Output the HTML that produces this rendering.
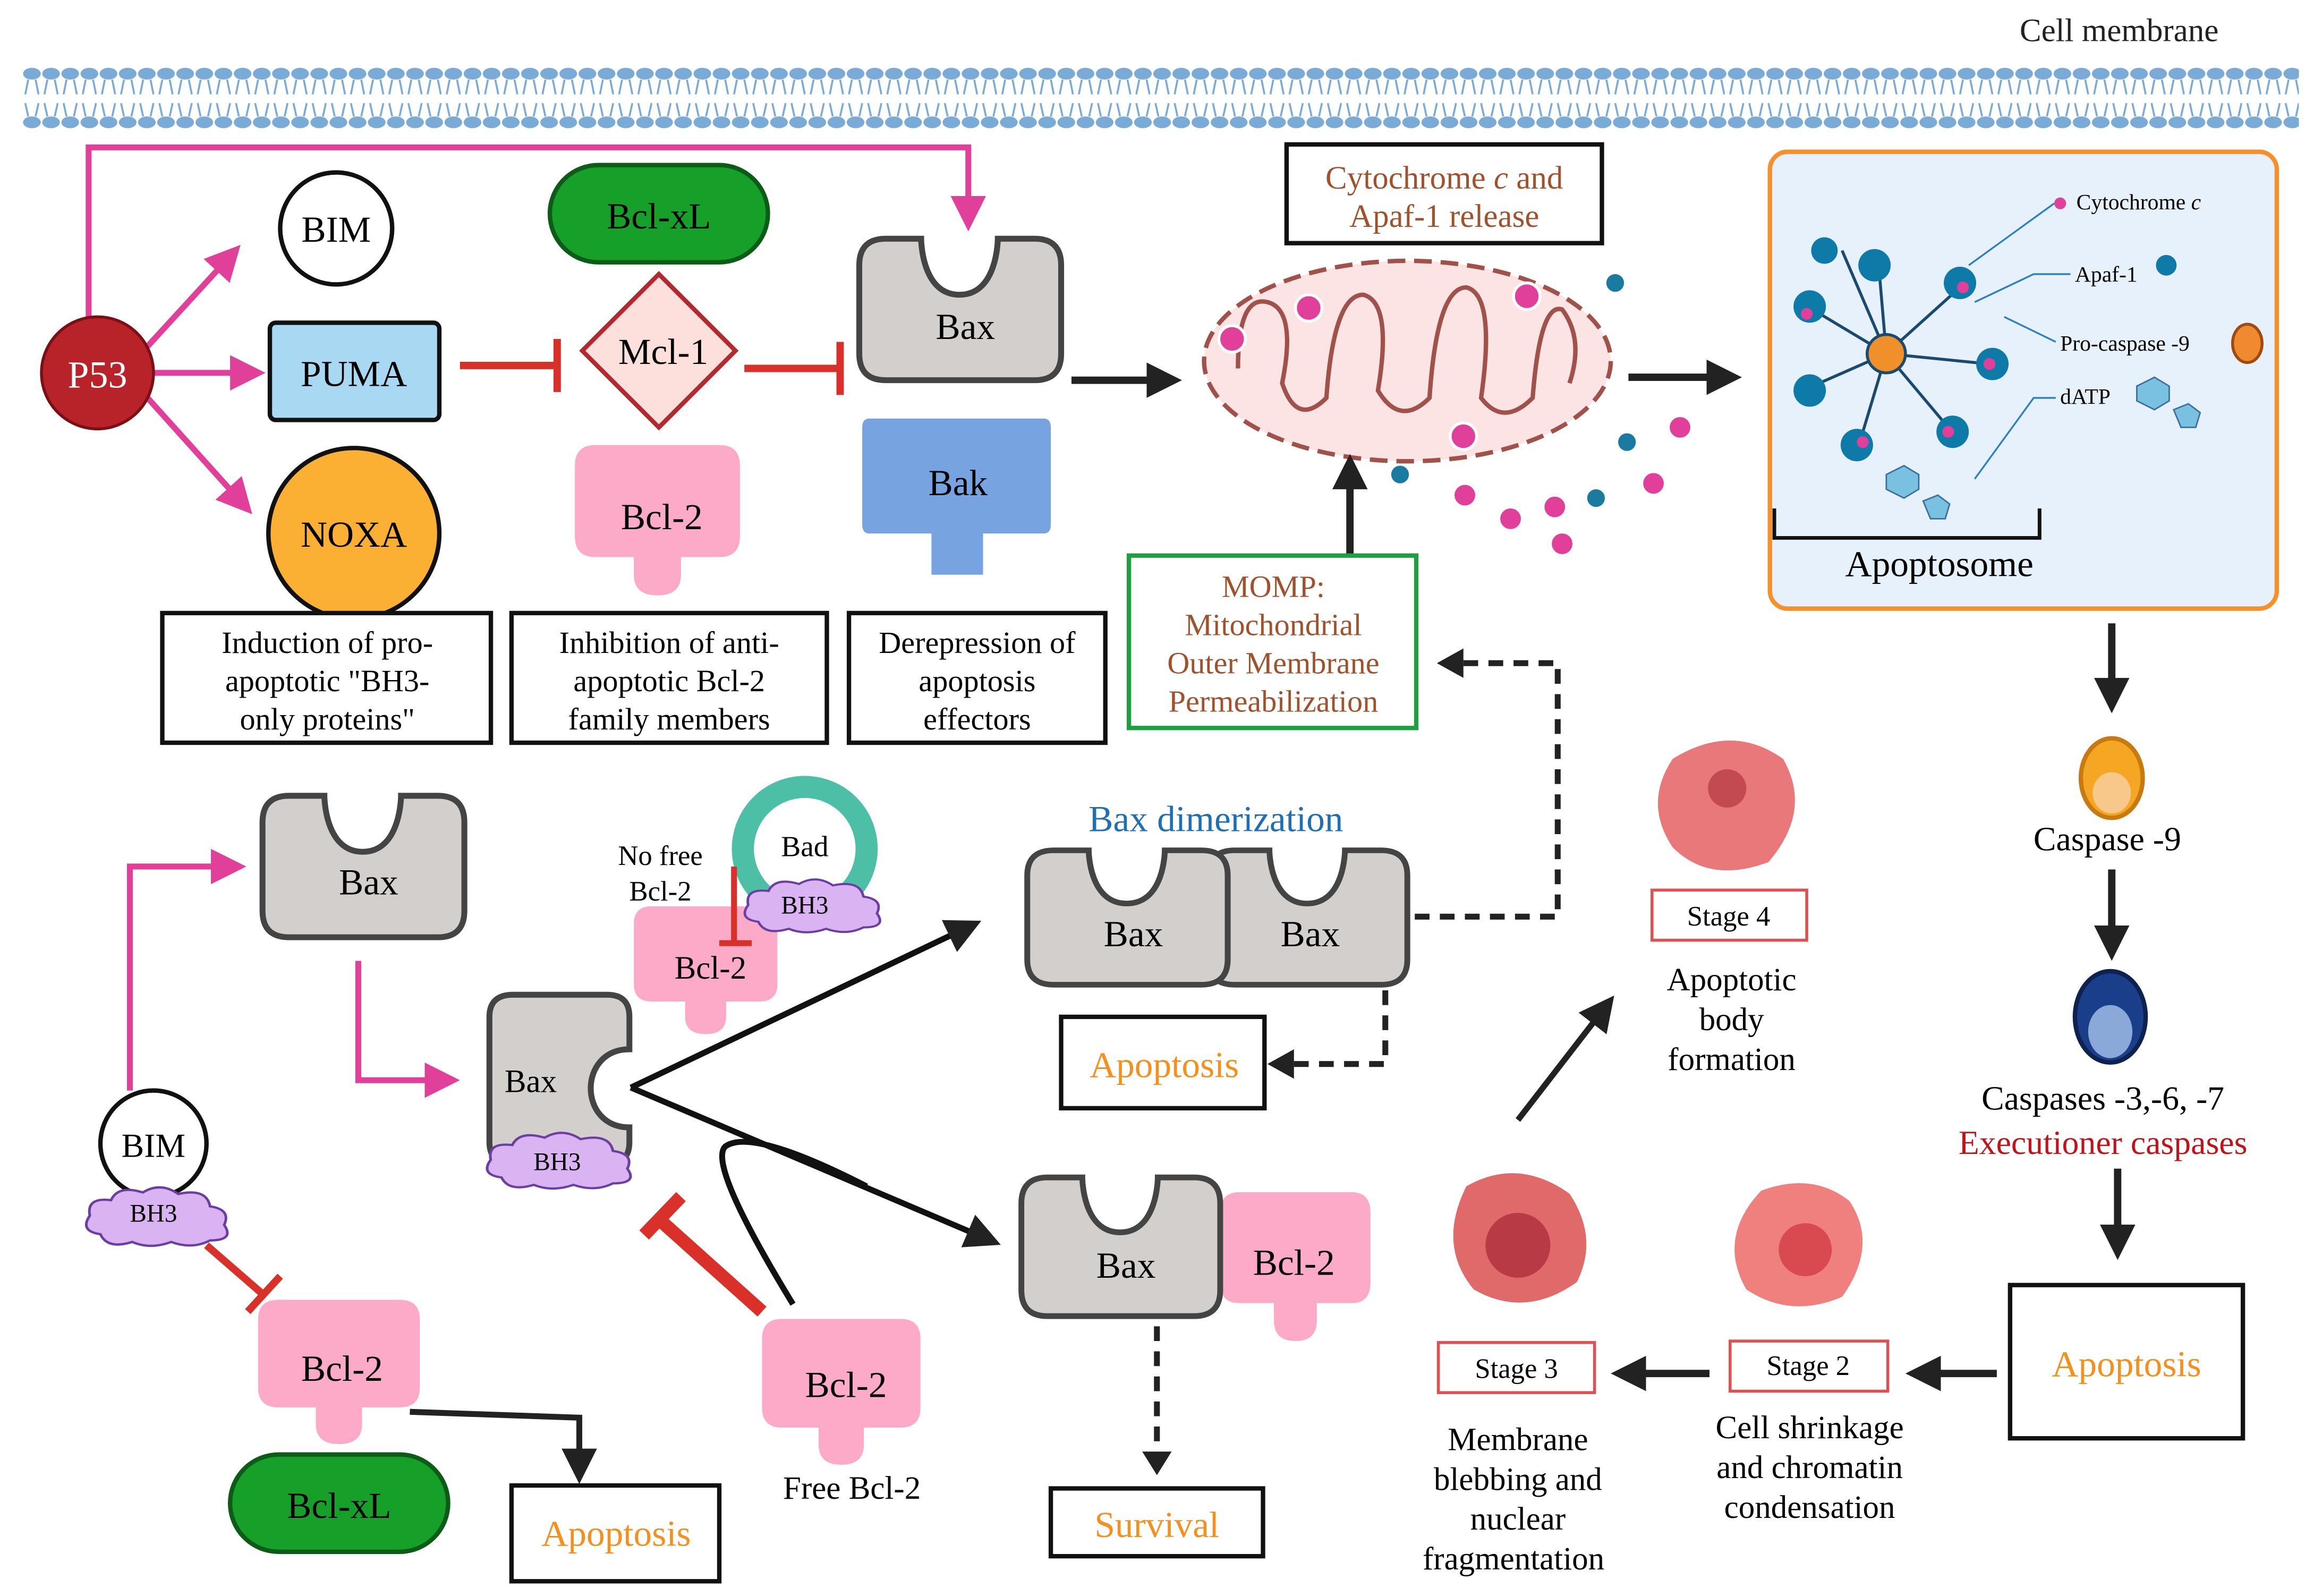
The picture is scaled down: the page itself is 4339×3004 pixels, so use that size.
<!DOCTYPE html>
<html><head><meta charset="utf-8">
<style>html,body{margin:0;padding:0;background:#fff}svg{display:block}
text{font-family:"Liberation Serif",serif}</style></head>
<body>
<svg width="4339" height="3004" viewBox="0 0 1564 1083" xmlns="http://www.w3.org/2000/svg">
<defs>
<pattern id="mem" x="15" y="0" width="13" height="100" patternUnits="userSpaceOnUse">
<ellipse cx="6.5" cy="50" rx="6" ry="4" fill="#7aaad6"/>
<ellipse cx="6.5" cy="83" rx="6" ry="4" fill="#7aaad6"/>
<path d="M4,54 L2,64 M9,54 L11,64 M4,79 L2,70 M9,79 L11,70" stroke="#7aaad6" stroke-width="1.3" fill="none"/>
</pattern>
<path id="bax" d="M18,0 H42 C42,0 42,38 68,38 C94,38 94,0 94,0 H119 Q137,0 137,18 V78 Q137,96 119,96 H18 Q0,96 0,78 V18 Q0,0 18,0 Z" fill="#d3cfcc" stroke="#444" stroke-width="4"/>
<g id="bcl2"><path d="M14,0 H98 Q112,0 112,14 V62 Q112,76 98,76 H72 V88 Q72,102 56,102 Q40,102 40,88 V76 H14 Q0,76 0,62 V14 Q0,0 14,0 Z" fill="#fcaac8"/></g>
<g id="cloud"><path d="M10,30 Q-2,28 4,18 Q2,6 16,8 Q20,-2 34,3 Q44,-4 54,4 Q70,0 72,12 Q84,14 80,24 Q86,34 72,34 Q62,40 50,35 Q38,40 28,35 Q14,40 10,30 Z" fill="#d9b3f2" stroke="#6a3fa0" stroke-width="1.5"/></g>
<marker id="ab" markerWidth="10" markerHeight="10" refX="6" refY="5" orient="auto" markerUnits="userSpaceOnUse"><path d="M0,0 L10,5 L0,10 Z" fill="#222"/></marker>
<marker id="abig" markerWidth="24" markerHeight="24" refX="12" refY="12" orient="auto" markerUnits="userSpaceOnUse"><path d="M0,0 L24,12 L0,24 Z" fill="#222"/></marker>
<marker id="ap" markerWidth="24" markerHeight="24" refX="12" refY="12" orient="auto" markerUnits="userSpaceOnUse"><path d="M0,0 L24,12 L0,24 Z" fill="#e0409a"/></marker>
</defs>

<!-- membrane -->
<text x="1438" y="28" font-size="22" text-anchor="middle" fill="#222">Cell membrane</text>
<rect x="15" y="40" width="1545" height="50" fill="url(#mem)"/>

<!-- P53 pink lines -->
<g stroke="#e0409a" stroke-width="4" fill="none">
<path d="M60,220 V100 H657 V145" marker-end="url(#ap)"/>
<path d="M100,235 L155,175" marker-end="url(#ap)"/>
<path d="M104,253 L168,253" marker-end="url(#ap)"/>
<path d="M100,270 L163,340" marker-end="url(#ap)"/>
<path d="M88,740 V588 H155" marker-end="url(#ap)"/>
<path d="M243,652 V733 H300" marker-end="url(#ap)"/>
</g>
<circle cx="66" cy="253" r="38" fill="#b8232a" stroke="#7a1015" stroke-width="2"/>
<text x="66" y="263" font-size="26" fill="#fff" text-anchor="middle">P53</text>

<circle cx="228" cy="155" r="38" fill="#fff" stroke="#111" stroke-width="3"/>
<text x="228" y="164" font-size="25" text-anchor="middle">BIM</text>
<rect x="183" y="219" width="115" height="66" rx="4" fill="#a8d8f2" stroke="#111" stroke-width="3"/>
<text x="240" y="262" font-size="25" text-anchor="middle">PUMA</text>
<circle cx="240" cy="362" r="58" fill="#fbb034" stroke="#111" stroke-width="3"/>
<text x="240" y="371" font-size="25" text-anchor="middle">NOXA</text>

<g stroke="#d9302a" stroke-width="5"><path d="M312,248 H376 M378,230 V266"/><path d="M505,250 H568 M570,232 V268"/></g>
<rect x="373" y="112" width="148" height="66" rx="33" fill="#16a02a" stroke="#0c5c18" stroke-width="3"/>
<text x="447" y="155" font-size="25" text-anchor="middle">Bcl-xL</text>
<path d="M447,186 L499,238 L447,290 L395,238 Z" fill="#fde0dc" stroke="#b02a30" stroke-width="3"/>
<text x="450" y="247" font-size="25" text-anchor="middle">Mcl-1</text>
<use href="#bcl2" transform="translate(390,302)"/>
<text x="449" y="359" font-size="25" text-anchor="middle">Bcl-2</text>
<use href="#bax" transform="translate(583,162)"/>
<text x="655" y="230" font-size="25" text-anchor="middle">Bax</text>
<path d="M590,284 H708 Q713,284 713,290 V356 Q713,362 708,362 H667 V390 H632 V362 H590 Q585,362 585,356 V290 Q585,284 590,284 Z" fill="#77a3e0"/>
<text x="650" y="336" font-size="25" text-anchor="middle">Bak</text>

<g fill="#fff" stroke="#111" stroke-width="3">
<rect x="110" y="416" width="223" height="88"/><rect x="347" y="416" width="214" height="88"/><rect x="576" y="416" width="174" height="88"/>
</g>
<g font-size="21" text-anchor="middle">
<text x="222" y="443">Induction of pro-</text><text x="222" y="469">apoptotic "BH3-</text><text x="222" y="495">only proteins"</text>
<text x="454" y="443">Inhibition of anti-</text><text x="454" y="469">apoptotic Bcl-2</text><text x="454" y="495">family members</text>
<text x="663" y="443">Derepression of</text><text x="663" y="469">apoptosis</text><text x="663" y="495">effectors</text>
</g>

<!-- mito -->
<path d="M727,258 H790" stroke="#222" stroke-width="5" marker-end="url(#abig)"/>
<ellipse cx="955" cy="245" rx="138" ry="68" fill="#fde4e4" stroke="#a0524a" stroke-width="3" stroke-dasharray="12,6"/>
<path d="M840,250 Q840,200 860,205 Q880,210 870,260 Q880,290 900,270 Q905,200 925,200 Q945,205 935,265 Q950,290 970,270 Q975,195 995,195 Q1015,200 1005,270 Q1020,290 1040,270 Q1045,205 1060,210 Q1075,230 1065,260" fill="none" stroke="#a0524a" stroke-width="3"/>
<g fill="#e0409a" stroke="#fff" stroke-width="2">
<circle cx="888" cy="209" r="9"/><circle cx="836" cy="230" r="9"/><circle cx="1036" cy="201" r="9"/><circle cx="993" cy="296" r="9"/>
<circle cx="1140" cy="290" r="8"/><circle cx="1122" cy="328" r="8"/><circle cx="1055" cy="344" r="8"/><circle cx="1025" cy="352" r="8"/><circle cx="994" cy="336" r="8"/><circle cx="1060" cy="369" r="8"/>
</g>
<g fill="#1a7aa0"><circle cx="1096" cy="192" r="6"/><circle cx="1104" cy="300" r="6"/><circle cx="950" cy="322" r="6"/><circle cx="1083" cy="338" r="6"/></g>
<rect x="873" y="98" width="214" height="67" fill="#fff" stroke="#111" stroke-width="3"/>
<text x="980" y="128" font-size="22" text-anchor="middle" fill="#a0522d">Cytochrome <tspan font-style="italic">c</tspan> and</text>
<text x="980" y="154" font-size="22" text-anchor="middle" fill="#a0522d">Apaf-1 release</text>
<path d="M1105,256 H1170" stroke="#222" stroke-width="5" marker-end="url(#abig)"/>
<path d="M916,376 V320" stroke="#222" stroke-width="5" marker-end="url(#abig)"/>
<rect x="766" y="377" width="195" height="117" fill="#fff" stroke="#1fa040" stroke-width="3"/>
<g font-size="21" text-anchor="middle" fill="#a0522d">
<text x="864" y="405">MOMP:</text><text x="864" y="431">Mitochondrial</text><text x="864" y="457">Outer Membrane</text><text x="864" y="483">Permeabilization</text></g>

<!-- apoptosome -->
<rect x="1201" y="103" width="344" height="310" rx="12" fill="#e6f1fb" stroke="#f5902a" stroke-width="3"/>
<g stroke="#1a4a70" stroke-width="2" fill="none">
<path d="M1280,240 L1230,210 M1280,240 L1230,262 M1280,240 L1262,300 M1280,240 L1322,290 M1280,240 L1350,247 M1280,240 L1330,195 M1280,240 L1275,182 M1280,240 L1250,170"/>
</g>
<g fill="#0e7aa8">
<circle cx="1228" cy="208" r="11"/><circle cx="1228" cy="265" r="11"/><circle cx="1260" cy="302" r="11"/><circle cx="1325" cy="293" r="11"/><circle cx="1352" cy="247" r="11"/><circle cx="1330" cy="192" r="11"/><circle cx="1272" cy="180" r="11"/><circle cx="1238" cy="170" r="9"/>
<circle cx="1470" cy="180" r="7"/><circle cx="1103" cy="195" r="0"/>
</g>
<circle cx="1280" cy="240" r="13" fill="#f0902a" stroke="#1a4a70" stroke-width="2"/>
<g fill="#e0409a"><circle cx="1398" cy="138" r="4"/><circle cx="1226" cy="213" r="4"/><circle cx="1332" cy="195" r="4"/><circle cx="1350" cy="247" r="4"/><circle cx="1322" cy="293" r="4"/><circle cx="1264" cy="300" r="4"/></g>
<g stroke="#2a80c0" stroke-width="1.2" fill="none"><path d="M1394,138 L1336,180 M1405,186 H1380 L1340,205 M1395,232 L1360,215 M1395,270 H1380 L1340,325"/></g>
<ellipse cx="1525" cy="233" rx="10" ry="13" fill="#f08a30" stroke="#a04a10" stroke-width="2"/>
<path d="M1450,262 l12,-6 l10,6 v10 l-10,6 l-12,-6 Z M1475,278 l10,-4 l8,6 l-3,10 h-10 Z" fill="#7ac0e0" stroke="#3a70a0"/>
<path d="M1280,322 l12,-6 l10,6 v10 l-10,6 l-12,-6 Z M1305,340 l10,-4 l8,6 l-3,10 h-10 Z" fill="#7ac0e0" stroke="#3a70a0"/>
<g font-size="15"><text x="1409" y="142">Cytochrome <tspan font-style="italic">c</tspan></text><text x="1408" y="191">Apaf-1</text><text x="1398" y="238">Pro-caspase -9</text><text x="1398" y="274">dATP</text></g>
<path d="M1204,345 V365 H1384 V345" fill="none" stroke="#111" stroke-width="2.5"/>
<text x="1316" y="391" font-size="25" text-anchor="middle">Apoptosome</text>

<!-- caspases -->
<g stroke="#222" stroke-width="5"><path d="M1433,423 V472" marker-end="url(#abig)"/><path d="M1433,590 V640" marker-end="url(#abig)"/><path d="M1437,793 V843" marker-end="url(#abig)"/>
<path d="M1355,932 H1305" marker-end="url(#abig)"/><path d="M1160,932 H1105" marker-end="url(#abig)"/></g>
<ellipse cx="1433" cy="528" rx="21" ry="27" fill="#f5a623" stroke="#c87a10" stroke-width="3"/>
<ellipse cx="1433" cy="538" rx="13" ry="14" fill="#f8c88a"/>
<text x="1430" y="577" font-size="23" text-anchor="middle">Caspase -9</text>
<ellipse cx="1432" cy="690" rx="24" ry="31" fill="#1a3e8a" stroke="#0e2250" stroke-width="3"/>
<ellipse cx="1432" cy="700" rx="15" ry="18" fill="#8aa8d8"/>
<text x="1427" y="753" font-size="23" text-anchor="middle">Caspases -3,-6, -7</text>
<text x="1427" y="783" font-size="23" text-anchor="middle" fill="#c0141a">Executioner caspases</text>
<rect x="1364" y="872" width="158" height="104" fill="#fff" stroke="#111" stroke-width="3"/>
<text x="1443" y="934" font-size="25" text-anchor="middle" fill="#f5901e">Apoptosis</text>

<!-- stages -->
<g fill="#fff" stroke="#e05050" stroke-width="2"><rect x="1174" y="910" width="107" height="34"/><rect x="976" y="911" width="106" height="34"/><rect x="1121" y="604" width="105" height="34"/></g>
<g font-size="19" text-anchor="middle"><text x="1227" y="933">Stage 2</text><text x="1029" y="935">Stage 3</text><text x="1173" y="628">Stage 4</text></g>
<g font-size="22" text-anchor="middle">
<text x="1228" y="976">Cell shrinkage</text><text x="1228" y="1003">and chromatin</text><text x="1228" y="1030">condensation</text>
<text x="1030" y="984">Membrane</text><text x="1030" y="1011">blebbing and</text><text x="1030" y="1038">nuclear</text><text x="1027" y="1065">fragmentation</text>
<text x="1175" y="672">Apoptotic</text><text x="1175" y="699">body</text><text x="1175" y="726">formation</text></g>
<path d="M1195,808 Q1230,795 1255,815 Q1275,845 1250,880 Q1215,895 1185,875 Q1165,840 1195,808 Z" fill="#f0807e"/>
<circle cx="1225" cy="848" r="18" fill="#d84a50"/>
<path d="M995,805 Q1030,785 1065,810 Q1085,840 1070,870 Q1035,895 1000,875 Q975,845 995,805 Z" fill="#e06a6a"/>
<circle cx="1030" cy="845" r="22" fill="#b83a44"/>
<path d="M1135,515 Q1175,490 1210,515 Q1230,550 1200,585 Q1160,600 1135,575 Q1115,545 1135,515 Z" fill="#e8787a"/>
<circle cx="1172" cy="535" r="13" fill="#c24a50"/>
<path d="M1030,760 L1088,685" stroke="#222" stroke-width="4" marker-end="url(#abig)"/>

<!-- bottom left -->
<circle cx="104" cy="776" r="36" fill="#fff" stroke="#111" stroke-width="3"/>
<text x="104" y="785" font-size="23" text-anchor="middle">BIM</text>
<use href="#cloud" transform="translate(56,806) scale(1.2,1.05)"/>
<text x="104" y="829" font-size="17" text-anchor="middle">BH3</text>
<g stroke="#d9302a" stroke-width="5"><path d="M140,845 L178,878 M168,890 L190,866"/></g>
<use href="#bax" transform="translate(178,540)"/>
<text x="250" y="607" font-size="25" text-anchor="middle">Bax</text>
<path d="M348,675 H412 Q427,675 427,690 V712 C392,712 392,765 427,765 V775 Q427,790 412,790 H348 Q332,790 332,775 V690 Q332,675 348,675 Z" fill="#d3cfcc" stroke="#444" stroke-width="4"/>
<text x="360" y="741" font-size="22" text-anchor="middle">Bax</text>
<use href="#cloud" transform="translate(328,769) scale(1.22,1.0)"/>
<text x="378" y="794" font-size="17" text-anchor="middle">BH3</text>
<use href="#bcl2" transform="translate(175,882) scale(0.98,0.96)"/>
<text x="232" y="937" font-size="25" text-anchor="middle">Bcl-2</text>
<rect x="156" y="987" width="148" height="66" rx="33" fill="#16a02a" stroke="#0c5c18" stroke-width="3"/>
<text x="230" y="1030" font-size="25" text-anchor="middle">Bcl-xL</text>
<path d="M278,958 L393,962 V995" stroke="#222" stroke-width="4" fill="none" marker-end="url(#abig)"/>
<rect x="347" y="1008" width="141" height="65" fill="#fff" stroke="#111" stroke-width="3"/>
<text x="418" y="1049" font-size="25" text-anchor="middle" fill="#f5901e">Apoptosis</text>

<use href="#bcl2" transform="translate(430,615) scale(0.87,0.85)"/>
<text x="482" y="664" font-size="22" text-anchor="middle">Bcl-2</text>
<circle cx="546" cy="576" r="42" fill="none" stroke="#4cbfa6" stroke-width="15"/>
<text x="546" y="581" font-size="20" text-anchor="middle">Bad</text>
<use href="#cloud" transform="translate(503,597) scale(1.15,0.95)"/>
<text x="546" y="620" font-size="17" text-anchor="middle">BH3</text>
<text x="448" y="587" font-size="19" text-anchor="middle">No free</text>
<text x="448" y="611" font-size="19" text-anchor="middle">Bcl-2</text>
<g stroke="#d9302a" stroke-width="4"><path d="M498,588 V638 M488,640 H510"/></g>

<g stroke="#111" stroke-width="4" fill="none">
<path d="M428,738 L655,630" marker-end="url(#abig)"/>
<path d="M428,738 L668,840" marker-end="url(#abig)"/>
<path d="M538,885 Q480,790 492,778 Q510,765 588,805"/>
</g>
<g stroke="#d9302a" stroke-width="9"><path d="M517,890 L450,830 M437,838 L462,812"/></g>
<use href="#bcl2" transform="translate(517,895) scale(0.96,0.97)"/>
<text x="574" y="948" font-size="25" text-anchor="middle">Bcl-2</text>
<text x="578" y="1017" font-size="22" text-anchor="middle">Free Bcl-2</text>

<text x="825" y="564" font-size="25" text-anchor="middle" fill="#1f6fb5">Bax dimerization</text>
<use href="#bax" transform="translate(820,577) scale(0.985,0.95)"/>
<use href="#bax" transform="translate(697,577) scale(0.993,0.95)"/>
<text x="769" y="642" font-size="25" text-anchor="middle">Bax</text>
<text x="889" y="642" font-size="25" text-anchor="middle">Bax</text>
<g stroke="#222" stroke-width="4" fill="none" stroke-dasharray="10,7">
<path d="M960,622 H1057 V450 H990"/>
<path d="M940,672 V722 H875"/>
<path d="M785,900 V985"/>
</g>
<path d="M975,450 l18,-10 v20 Z M860,722 l18,-10 v20 Z M775,985 h20 l-10,16 Z" fill="#222"/>
<rect x="720" y="690" width="138" height="62" fill="#fff" stroke="#111" stroke-width="3"/>
<text x="790" y="731" font-size="25" text-anchor="middle" fill="#f5901e">Apoptosis</text>
<use href="#bcl2" transform="translate(828,809) scale(0.91,0.99)"/>
<use href="#bax" transform="translate(693,799) scale(0.985,0.98)"/>
<text x="764" y="867" font-size="25" text-anchor="middle">Bax</text>
<text x="878" y="865" font-size="25" text-anchor="middle">Bcl-2</text>
<rect x="713" y="1010" width="144" height="46" fill="#fff" stroke="#111" stroke-width="3"/>
<text x="785" y="1043" font-size="25" text-anchor="middle" fill="#f5901e">Survival</text>
</svg>
</body></html>
